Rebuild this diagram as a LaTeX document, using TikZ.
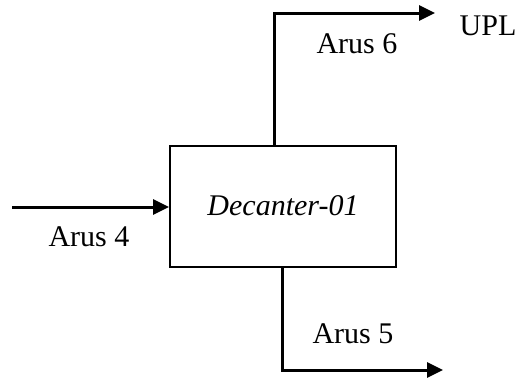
\documentclass[tikz,border=0pt]{standalone}
\usepackage{fontspec}
\setmainfont{Liberation Serif}
\usetikzlibrary{arrows.meta}

\tikzset{
    flow/.style={line width=1.5pt, -{Triangle[length=8pt,width=7.5pt]}},
    unit/.style={draw, line width=1pt, minimum width=113pt, minimum height=60.5pt, inner sep=0pt},
    lbl/.style={inner sep=0pt}
}

\begin{document}
\begin{tikzpicture}[x=0.5pt, y=-0.5pt, font=\fontsize{15}{18}\selectfont]
    \useasboundingbox (0,0) rectangle (521,380);

    % DECANTER
    \node[unit] (dec) at (283,206) {\itshape Decanter-01};

    % END POINTS
    \coordinate (feed) at (12,207);
    \coordinate (upl) at (435,13);
    \coordinate (out5) at (443,370);

    % STREAMS
    \draw[flow] (feed) -- (dec.west |- feed);
    \draw[flow] ([xshift=-4.5pt]dec.north) |- (upl);
    \draw[flow] ([xshift=-0.5pt]dec.south) |- (out5);

    % LABELS
    \node[lbl] (a4) at (89,237) {Arus 4};
    \node[lbl] (a6) at (357,44) {Arus 6};
    \node[lbl] (a5) at (353,334) {Arus 5};
    \node[lbl] (tupl) at (488,26) {UPL};
\end{tikzpicture}
\end{document}
